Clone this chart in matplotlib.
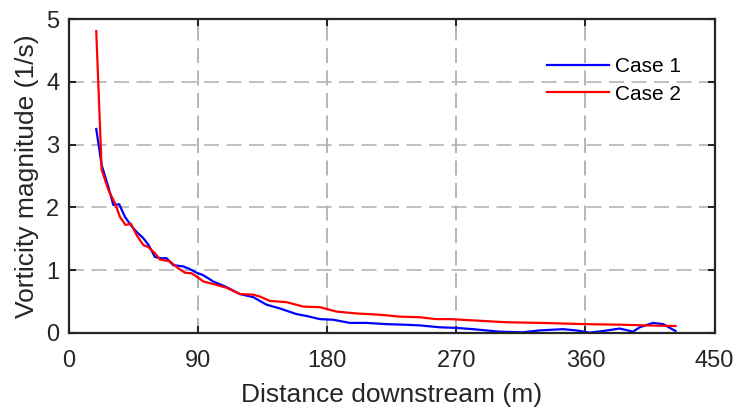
import matplotlib
matplotlib.use("Agg")
import matplotlib.pyplot as plt

# Case 1 (blue)
x1 = [19, 22.8, 27.4, 30.9, 35, 39, 43, 47.1, 51.8, 55.5, 59.9, 64, 68, 72.7, 79.6, 84, 88.9,
      93.6, 100.5, 109.8, 119, 128.4, 137.7, 147, 158.6, 165.6, 174.9, 184.1, 195.7, 207.3,
      221.2, 235.1, 244.4, 258.4, 270, 281.6, 300, 316.3, 328, 344.3, 353.6, 362.9, 372.2,
      383.8, 389.6, 393.1, 397.8, 407.1, 414.1, 422.8]
y1 = [3.25, 2.67, 2.33, 2.04, 2.05, 1.85, 1.72, 1.61, 1.51, 1.40, 1.21, 1.19, 1.19, 1.08, 1.06,
      1.02, 0.96, 0.92, 0.82, 0.73, 0.62, 0.57, 0.45, 0.39, 0.30, 0.27, 0.22, 0.21, 0.16, 0.16,
      0.14, 0.13, 0.12, 0.09, 0.08, 0.06, 0.02, 0.01, 0.04, 0.06, 0.04, 0.005, 0.03, 0.07,
      0.04, 0.02, 0.09, 0.16, 0.14, 0.03]

# Case 2 (red)
x2 = [19, 22.8, 27.4, 32, 35.5, 39.4, 43.2, 47.1, 51.8, 55.2, 59.9, 63.4, 70.3, 76.1, 80.8,
      85.5, 88.9, 93.6, 100.5, 109.8, 119, 128.4, 133, 140, 151.6, 163.2, 174.9, 186.5, 200.4,
      216.6, 230.6, 244.4, 256, 265.4, 281.6, 304.9, 328, 360, 386, 402.4, 422.8]
y2 = [4.81, 2.6, 2.28, 2.07, 1.85, 1.72, 1.74, 1.56, 1.40, 1.37, 1.27, 1.17, 1.14, 1.03, 0.96,
      0.95, 0.90, 0.82, 0.78, 0.72, 0.62, 0.61, 0.58, 0.51, 0.49, 0.42, 0.41, 0.34, 0.31,
      0.29, 0.26, 0.25, 0.22, 0.22, 0.20, 0.17, 0.16, 0.14, 0.13, 0.12, 0.11]

xticks = [0, 90, 180, 270, 360, 450]
yticks = [0, 1, 2, 3, 4, 5]

plt.rcParams['font.family'] = ['Liberation Sans', 'DejaVu Sans']
dark = '#262626'

fig = plt.figure(figsize=(7.37, 4.07), dpi=100)
ax = fig.add_axes([0.0936, 0.182, 0.876, 0.771])

for xv in xticks[1:-1]:
    ax.axvline(xv, color='#a8a8a8', lw=1.2, dashes=(9, 4.5), zorder=0)
for yv in yticks[1:-1]:
    ax.axhline(yv, color='#b4b4b4', lw=1.2, dashes=(9, 4.5), zorder=0)

ax.plot(x1, y1, color='#0000ff', lw=1.6, label='Case 1')
ax.plot(x2, y2, color='#ff0000', lw=1.6, label='Case 2')

ax.set_xlim(0, 450)
ax.set_ylim(0, 5)
ax.set_xticks(xticks)
ax.set_yticks(yticks)
ax.tick_params(direction='in', length=5, width=1.5, colors=dark, labelsize=17,
               top=True, right=True, labelcolor=dark)
ax.tick_params(axis='x', pad=12)
ax.tick_params(axis='y', pad=7)
for s in ax.spines.values():
    s.set_linewidth(1.6)
    s.set_color(dark)

ax.set_xlabel('Distance downstream (m)', fontsize=19, color=dark, labelpad=8)
ax.set_ylabel('Vorticity magnitude (1/s)', fontsize=19, color=dark, labelpad=5)

leg = ax.legend(loc='upper left', bbox_to_anchor=(0.728, 0.905), frameon=False,
                fontsize=15, handlelength=2.95, handletextpad=0.3, labelspacing=0.4,
                borderaxespad=0)
for t in leg.get_texts():
    t.set_color('black')

fig.savefig('out.png', dpi=100)
